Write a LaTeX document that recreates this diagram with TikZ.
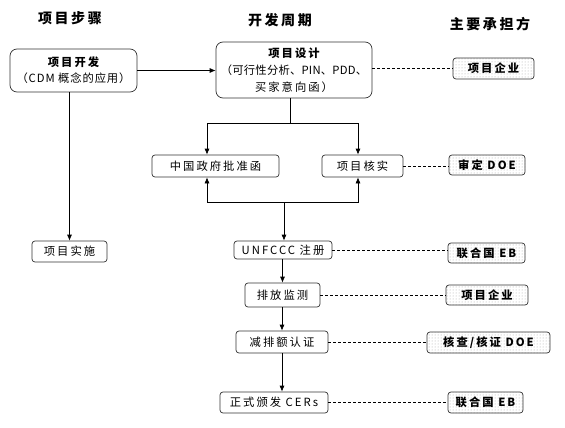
\documentclass[tikz,border=0pt]{standalone}
\usepackage{fontspec}
\setmainfont{Noto Sans CJK SC}[LetterSpace=18]
\usetikzlibrary{arrows.meta,patterns}
\begin{document}
\begin{tikzpicture}[x=1pt,y=-1pt,
  box/.style={draw=black!80,line width=0.7pt,rounded corners=3pt,inner sep=0pt,font=\fontsize{11.3}{13}\selectfont,align=center},
  bigbox/.style={box,rounded corners=7pt},
  party/.style={box,pattern=dots,pattern color=black!35,font=\fontsize{11.3}{13}\selectfont\bfseries},
  arr/.style={-{Latex[length=6pt,width=5pt]},line width=0.7pt},
  ln/.style={line width=0.7pt},
  dsh/.style={dashed,line width=0.5pt,dash pattern=on 3pt off 2pt},
  ttl/.style={font=\fontsize{14}{15}\selectfont\bfseries}]
\useasboundingbox (0,0) rectangle (565,428);
% titles
\node[ttl] (t1) at (70,18) {项目步骤};
\node[ttl] (t2) at (280,20) {开发周期};
\node[ttl] (t3) at (490,24) {主要承担方};
% left column
\node[bigbox,minimum width=127,minimum height=43] (kf) at (73.5,70.5) {{\bfseries 项目开发}\\[3pt]{\addfontfeatures{LetterSpace=8}（CDM 概念的应用）}};
\node[box,minimum width=75,minimum height=21] (ss) at (69.5,251.5) {项目实施};
% middle column
\node[bigbox,minimum width=156,minimum height=56] (sj) at (294,70) {{\bfseries 项目设计}\\[4pt]{\addfontfeatures{LetterSpace=2}（可行性分析、PIN、PDD、}\\[4pt]买家意向函）};
\node[box,minimum width=127,minimum height=22] (zg) at (215.5,166) {中国政府批准函};
\node[box,minimum width=81,minimum height=22] (hs) at (362.5,166) {项目核实};
\node[box,minimum width=98,minimum height=18] (un) at (283,250) {UNFCCC 注册};
\node[box,minimum width=75,minimum height=24] (pf) at (282.5,295) {排放监测};
\node[box,minimum width=92,minimum height=22] (jp) at (282,342) {减排额认证};
\node[box,minimum width=108,minimum height=21] (cer) at (274,402.5) {正式颁发 CERs};
% right column
\node[party,minimum width=81,minimum height=21] (qy1) at (493.5,68.5) {项目企业};
\node[party,minimum width=76,minimum height=20] (dz) at (487,165) {审定 DOE};
\node[party,minimum width=77,minimum height=20] (eb1) at (486.5,253) {联合国 EB};
\node[party,minimum width=82,minimum height=20] (qy2) at (487,295) {项目企业};
\node[party,minimum width=123,minimum height=21] (hc) at (488.5,342.5) {核查/核证 DOE};
\node[party,minimum width=75,minimum height=21] (eb2) at (485.5,402.5) {联合国 EB};
% junctions
\coordinate (j1) at (290,123);
\coordinate (j2) at (284,202);
\coordinate (cl) at (207,123);
\coordinate (cr) at (358,123);
% connectors
\draw[arr] (kf.east) -- (kf.east -| sj.west);
\draw[arr] (ss.north |- kf.south) -- (ss.north);
\draw[ln] (sj.south -| j1) -- (j1);
\draw[arr] (j1) -| (cl |- zg.north);
\draw[arr] (j1) -| (cr |- hs.north);
\draw[arr] (j2) -| (cl |- zg.south);
\draw[arr] (j2) -| (cr |- hs.south);
\draw[arr] (j2) -- (j2 |- un.north);
\draw[arr] (un.south -| pf.north) -- (pf.north);
\draw[arr] (pf.south -| jp.north) -- (jp.north);
\draw[arr] (jp.south) -- (jp.south |- cer.north);
% dashed links
\draw[dsh] (sj.east |- qy1.west) -- (qy1.west);
\draw[dsh] (hs.east) -- (hs.east -| dz.west);
\draw[dsh] (un.east) -- (un.east -| eb1.west);
\draw[dsh] (pf.east) -- (pf.east -| qy2.west);
\draw[dsh] (jp.east) -- (jp.east -| hc.west);
\draw[dsh] (cer.east) -- (cer.east -| eb2.west);
\end{tikzpicture}
\end{document}
